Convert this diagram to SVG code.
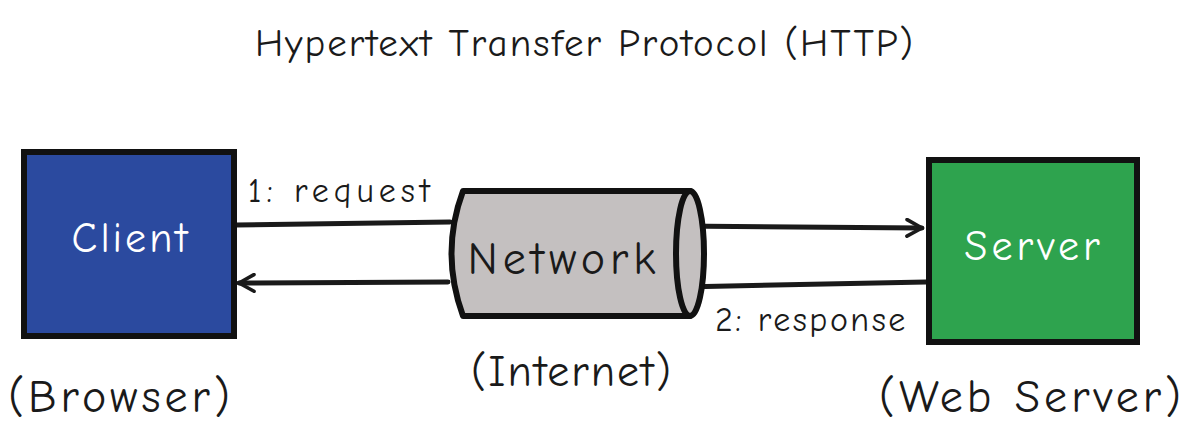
<svg xmlns="http://www.w3.org/2000/svg" width="1194" height="429" viewBox="0 0 1194 429">
<defs>
<style>
.t{font-family:"Comic Neue","Liberation Sans","DejaVu Sans",sans-serif;fill:#1a1a1a}
.w{font-family:"Comic Neue","Liberation Sans","DejaVu Sans",sans-serif;fill:#ffffff}
.line{stroke:#1a1a1a;stroke-width:5;fill:none;stroke-linecap:round}
.box{stroke:#111;stroke-width:6}
</style>
<marker id="ah" viewBox="0 0 12 12" refX="10" refY="6" markerWidth="4" markerHeight="4" orient="auto" markerUnits="strokeWidth">
<path d="M1,1 L10,6 L1,11" fill="none" stroke="#1a1a1a" stroke-width="2.2" stroke-linecap="round" stroke-linejoin="round"/>
</marker>
</defs>
<rect width="1194" height="429" fill="#ffffff"/>
<text class="t" x="585" y="56" font-size="39" letter-spacing="2" text-anchor="middle">Hypertext Transfer Protocol (HTTP)</text>
<g id="connectors">
<path class="line" d="M236,225 L450,222"/>
<path class="line" d="M678,226 L922,228" marker-end="url(#ah)"/>
<path class="line" d="M926,282 L682,287"/>
<path class="line" d="M448,282 L239,283" marker-end="url(#ah)"/>
</g>
<g id="client">
<rect class="box" x="24" y="152" width="210" height="184" fill="#2b4a9f"/>
<text class="w" x="131" y="252" font-size="42" letter-spacing="3" text-anchor="middle">Client</text>
</g>
<g id="server">
<rect class="box" x="929" y="160" width="208" height="182" fill="#2ea34e"/>
<text class="w" x="1034" y="260" font-size="42" letter-spacing="4" text-anchor="middle" fill="#f0fff0">Server</text>
</g>
<g id="network">
<path d="M463,191 L690,191 L690,316 L463,316 Q440,253 463,191 Z" fill="#c4c0c0" stroke="#111" stroke-width="6" stroke-linejoin="round"/>
<ellipse cx="690" cy="253.5" rx="14" ry="62.5" fill="#c4c0c0" stroke="#111" stroke-width="6"/>
<text class="t" x="564" y="274" font-size="46" letter-spacing="5" text-anchor="middle">Network</text>
</g>
<text class="t" x="248" y="202" font-size="34" letter-spacing="5">1: request</text>
<text class="t" x="715" y="331" font-size="34" letter-spacing="2.5">2: response</text>
<text class="t" x="121" y="412" font-size="46" letter-spacing="4" text-anchor="middle">(Browser)</text>
<text class="t" x="572" y="386" font-size="44" letter-spacing="2" text-anchor="middle">(Internet)</text>
<text class="t" x="1032" y="412" font-size="46" letter-spacing="4" text-anchor="middle">(Web Server)</text>
</svg>
